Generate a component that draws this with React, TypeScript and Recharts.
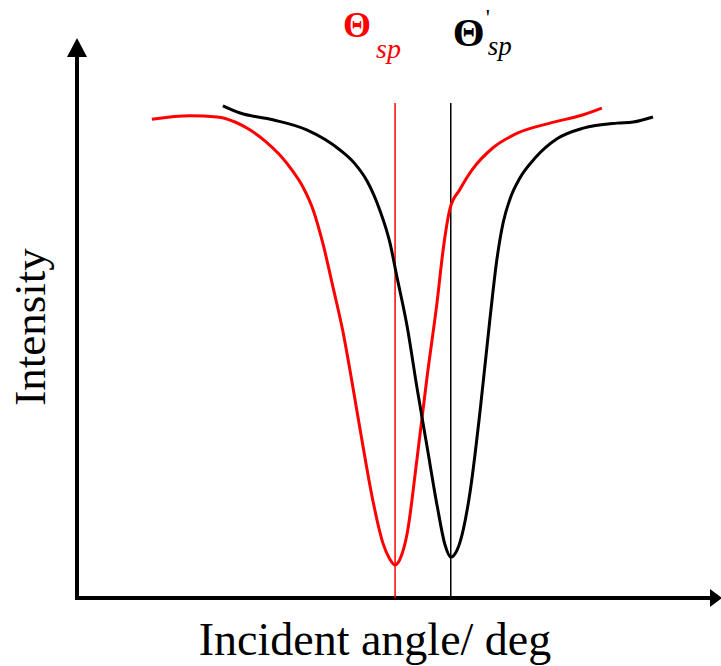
import { LineChart, Line, XAxis, YAxis, ReferenceLine, ReferenceDot, Label } from 'recharts'

// resonance curves, angle in arbitrary units (0-100), intensity in % of full scale
const redAngle = [11.7, 17.7, 21.9, 24.7, 27.0, 29.4, 31.7, 33.6, 35.3, 36.9, 38.4, 40.0, 41.6, 43.1, 44.7, 46.3, 47.8, 48.8, 49.7, 50.6, 51.6, 53.1, 54.7, 56.3, 57.2, 58.3, 59.8, 61.7, 65.0, 68.8, 73.9, 79.1, 82.0]
const redIntensity = [85.5, 86.1, 85.9, 85.0, 83.6, 81.6, 79.1, 76.4, 73.4, 69.3, 63.4, 55.5, 47.3, 37.7, 27.0, 17.0, 9.8, 7.1, 5.9, 7.3, 11.6, 24.6, 39.5, 53.2, 62.1, 69.6, 72.9, 76.4, 80.4, 83.0, 84.8, 86.3, 87.5]

const blackAngle = [22.8, 25.5, 30.6, 35.9, 41.1, 43.3, 45.3, 47.3, 48.9, 50.0, 51.6, 53.1, 54.7, 56.3, 57.5, 58.4, 59.4, 59.8, 61.4, 63.0, 64.5, 65.6, 66.6, 67.7, 69.2, 71.6, 75.0, 79.1, 84.4, 86.9, 90.0]
const blackIntensity = [87.9, 86.6, 85.4, 83.6, 80.0, 77.7, 74.5, 69.3, 63.4, 57.3, 48.4, 37.7, 27.0, 16.3, 9.5, 7.3, 8.6, 9.8, 18.8, 33.6, 49.6, 60.4, 67.1, 71.4, 75.0, 78.6, 82.0, 83.9, 84.8, 85.0, 85.9]

const RED_MIN = 49.7
const BLACK_MIN = 58.4
const MARKER_TOP = 88.4

const FONT = '"Liberation Serif", "Times New Roman", serif'

const redData = redAngle.map((angle, i) => ({ angle, intensity: redIntensity[i] }))
const blackData = blackAngle.map((angle, i) => ({ angle, intensity: blackIntensity[i] }))

function ArrowUp(props: any) {
  const { x1, y1, y2 } = props
  const top = Math.min(y1, y2)
  const bottom = Math.max(y1, y2)
  return (
    <g>
      <line x1={x1} y1={bottom + 2} x2={x1} y2={top + 16} stroke="#000" strokeWidth={4} />
      <polygon points={`${x1},${top} ${x1 - 10},${top + 19} ${x1 + 10},${top + 19}`} fill="#000" />
    </g>
  )
}

function ArrowRight(props: any) {
  const { x1, x2, y1 } = props
  const tip = Math.max(x1, x2) + 5
  return (
    <g>
      <line x1={Math.min(x1, x2) - 2} y1={y1} x2={tip - 10} y2={y1} stroke="#000" strokeWidth={4} />
      <polygon points={`${tip},${y1} ${tip - 12},${y1 - 9} ${tip - 12},${y1 + 9}`} fill="#000" />
    </g>
  )
}

function RedLabel(props: any) {
  const { cx, cy } = props
  return (
    <g fill="#ff0000" fontFamily={FONT}>
      <text x={cx - 52} y={cy - 1} fontSize={36} fontWeight="bold">Θ</text>
      <text x={cx - 19} y={cy + 20} fontSize={28} fontStyle="italic">sp</text>
    </g>
  )
}

function BlackLabel(props: any) {
  const { cx, cy } = props
  return (
    <g fill="#000" fontFamily={FONT}>
      <text x={cx + 2} y={cy + 8} fontSize={41} fontWeight="bold">Θ</text>
      <text x={cx + 35} y={cy - 13} fontSize={23}>'</text>
      <text x={cx + 37} y={cy + 17} fontSize={27} fontStyle="italic">sp</text>
    </g>
  )
}

export default function App() {
  return (
    <div style={{ position: 'absolute', left: 0, top: 0, background: '#fff' }}>
      <LineChart width={721} height={666} margin={{ top: 38, right: 4, left: 0, bottom: 0 }}>
        <XAxis
          type="number"
          dataKey="angle"
          domain={[0, 100]}
          allowDataOverflow
          height={68}
          tick={false}
          tickLine={false}
          axisLine={false}
        >
          <Label
            content={(p: any) => {
              const vb = p.viewBox
              return (
                <text x={vb.x + vb.width / 2 - 22} y={vb.y + 57} textAnchor="middle" fontFamily={FONT} fontSize={46} fill="#000">
                  Incident angle/ deg
                </text>
              )
            }}
          />
        </XAxis>
        <YAxis type="number" domain={[0, 100]} allowDataOverflow width={77} tick={false} tickLine={false} axisLine={false}>
          <Label
            content={(p: any) => {
              const vb = p.viewBox
              const cx = vb.x + 45
              const cy = vb.y + vb.height / 2 + 9
              return (
                <text x={cx} y={cy} transform={`rotate(-90 ${cx} ${cy})`} textAnchor="middle" fontFamily={FONT} fontSize={45} fill="#000">
                  Intensity
                </text>
              )
            }}
          />
        </YAxis>

        <ReferenceLine segment={[{ x: 0, y: 0 }, { x: 0, y: 100 }]} shape={ArrowUp} />
        <ReferenceLine segment={[{ x: 0, y: 0 }, { x: 100, y: 0 }]} shape={ArrowRight} />

        <ReferenceLine segment={[{ x: RED_MIN, y: 0 }, { x: RED_MIN, y: MARKER_TOP }]} stroke="#ff0000" strokeWidth={1.5} />
        <ReferenceLine segment={[{ x: BLACK_MIN, y: 0 }, { x: BLACK_MIN, y: MARKER_TOP }]} stroke="#000" strokeWidth={1.5} />

        <Line data={redData} dataKey="intensity" type="monotone" stroke="#ff0000" strokeWidth={3} dot={false} isAnimationActive={false} />
        <Line data={blackData} dataKey="intensity" type="monotone" stroke="#000" strokeWidth={3} dot={false} isAnimationActive={false} />

        <ReferenceDot x={RED_MIN} y={100} shape={RedLabel} />
        <ReferenceDot x={BLACK_MIN} y={100} shape={BlackLabel} />
      </LineChart>
    </div>
  )
}
